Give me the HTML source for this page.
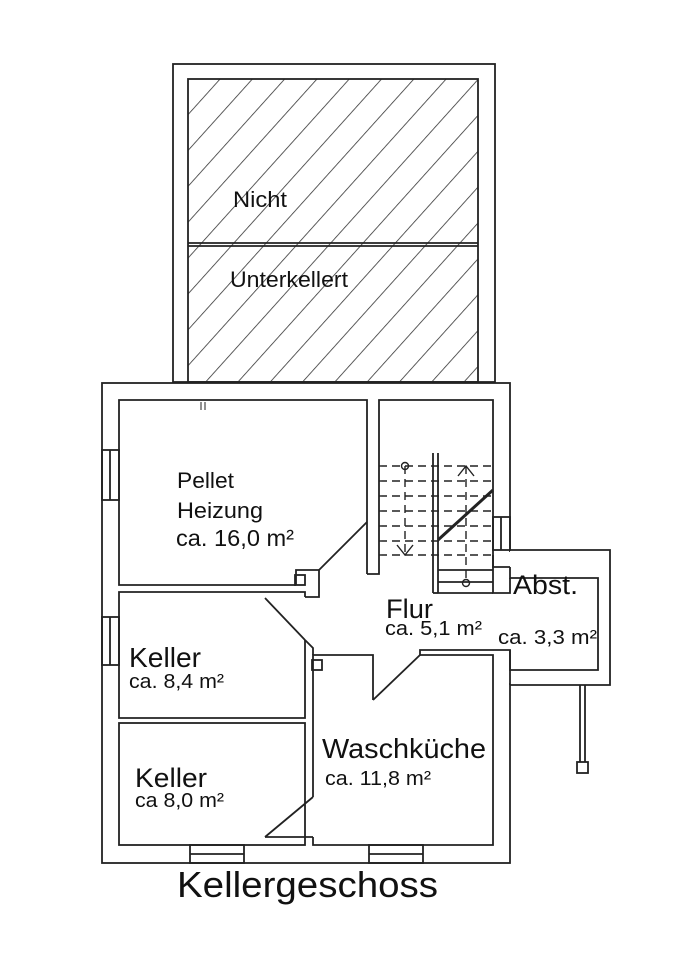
<!DOCTYPE html>
<html><head><style>body{margin:0;background:#fff}svg{display:block}text{font-family:"Liberation Sans",sans-serif;fill:#111}</style></head>
<body>
<svg width="681" height="960" viewBox="0 0 681 960" xmlns="http://www.w3.org/2000/svg">
<defs>
<pattern id="h" patternUnits="userSpaceOnUse" width="24" height="24" patternTransform="rotate(42)">
<line x1="0" y1="0" x2="0" y2="24" stroke="#333" stroke-width="1.6"/>
</pattern>
</defs>
<g fill="none" stroke="#222" stroke-width="1.8">
<rect x="173" y="64" width="322" height="318" fill="#fff"/>
<rect x="188" y="79" width="290" height="303" fill="url(#h)"/>
<line x1="188" y1="243" x2="478" y2="243"/>
<line x1="188" y1="246" x2="478" y2="246"/>
<rect x="102" y="383" width="408" height="480" fill="#fff"/>
<polyline points="510,550 610,550 610,685 510,685" fill="#fff"/>
<line x1="510" y1="552" x2="510" y2="683" stroke="#fff" stroke-width="3"/>
<polyline points="367,574 367,400 119,400 119,585 296,585"/>
<polyline points="367,574 379,574 379,400 493,400 493,567 510,567"/>
<polyline points="296,585 296,570 319,570 319,597 305,597"/>
<rect x="295" y="575" width="10" height="10"/>
<polyline points="305,640 305,718 119,718 119,592 305,592 305,597"/>
<rect x="119" y="723" width="186" height="122"/>
<polyline points="313,797 313,655 373,655 373,700"/>
<polyline points="420,655 493,655 493,845 313,845 313,837"/>
<polyline points="305,640 313,648 313,655"/>
<rect x="312" y="660" width="10" height="10"/>
<polyline points="420,655 420,650 510,650 510,685"/>
<polyline points="510,567 510,578 598,578 598,670 510,670 510,650"/>
<line x1="433" y1="453" x2="433" y2="593"/>
<line x1="438" y1="453" x2="438" y2="593"/>
<line x1="433" y1="593" x2="438" y2="593"/>
<line x1="438" y1="570" x2="493" y2="570"/>
<line x1="438" y1="582" x2="493" y2="582"/>
<line x1="438" y1="593" x2="493" y2="593"/>
<polyline points="493,555 493,593 510,593 510,578"/>
<g stroke-dasharray="8,5" stroke-width="1.4">
<line x1="379" y1="466" x2="493" y2="466"/>
<line x1="379" y1="481" x2="493" y2="481"/>
<line x1="379" y1="496" x2="493" y2="496"/>
<line x1="379" y1="511" x2="493" y2="511"/>
<line x1="379" y1="526" x2="493" y2="526"/>
<line x1="379" y1="541" x2="493" y2="541"/>
<line x1="379" y1="555" x2="493" y2="555"/>
<line x1="405" y1="466" x2="405" y2="555"/>
<line x1="466" y1="466" x2="466" y2="580"/>
</g>
<line x1="438" y1="540" x2="493" y2="490" stroke-width="3"/>
<polyline points="397,545 405,555 413,545" stroke-width="1.4"/>
<polyline points="458,476 466,466 474,476" stroke-width="1.4"/>
<circle cx="405" cy="466" r="3.5" stroke-width="1.4"/>
<circle cx="466" cy="583" r="3.5" stroke-width="1.4"/>
<line x1="367" y1="522" x2="319" y2="570"/>
<line x1="265" y1="598" x2="305" y2="640"/>
<line x1="420" y1="655" x2="373" y2="700"/>
<line x1="313" y1="797" x2="265" y2="837"/>
<line x1="265" y1="837" x2="313" y2="837"/>
<rect x="102" y="450" width="17" height="50"/>
<line x1="110" y1="450" x2="110" y2="500"/>
<rect x="102" y="617" width="17" height="48"/>
<line x1="110" y1="617" x2="110" y2="665"/>
<rect x="190" y="845" width="54" height="18"/>
<line x1="190" y1="854" x2="244" y2="854"/>
<rect x="369" y="845" width="54" height="18"/>
<line x1="369" y1="854" x2="423" y2="854"/>
<rect x="493" y="517" width="17" height="33"/>
<line x1="501" y1="517" x2="501" y2="550"/>
<line x1="580" y1="685" x2="580" y2="762"/>
<line x1="585" y1="685" x2="585" y2="762"/>
<rect x="577" y="762" width="11" height="11"/>
<line x1="201" y1="402" x2="201" y2="410" stroke-width="1"/>
<line x1="205" y1="402" x2="205" y2="410" stroke-width="1"/>
</g>
<text x="233" y="207" font-size="22" textLength="54" lengthAdjust="spacingAndGlyphs">Nicht</text>
<text x="230" y="287" font-size="22" textLength="118" lengthAdjust="spacingAndGlyphs">Unterkellert</text>
<text x="177" y="488" font-size="22" textLength="57" lengthAdjust="spacingAndGlyphs">Pellet</text>
<text x="177" y="518" font-size="22" textLength="86" lengthAdjust="spacingAndGlyphs">Heizung</text>
<text x="176" y="546" font-size="23" textLength="118" lengthAdjust="spacingAndGlyphs">ca. 16,0 m²</text>
<text x="129" y="667" font-size="28" textLength="72" lengthAdjust="spacingAndGlyphs">Keller</text>
<text x="129" y="688" font-size="20" textLength="95" lengthAdjust="spacingAndGlyphs">ca. 8,4 m²</text>
<text x="135" y="787" font-size="27" textLength="72" lengthAdjust="spacingAndGlyphs">Keller</text>
<text x="135" y="807" font-size="20" textLength="89" lengthAdjust="spacingAndGlyphs">ca 8,0 m²</text>
<text x="322" y="758" font-size="28" textLength="164" lengthAdjust="spacingAndGlyphs">Waschküche</text>
<text x="325" y="785" font-size="20" textLength="106" lengthAdjust="spacingAndGlyphs">ca. 11,8 m²</text>
<text x="386" y="618" font-size="27" textLength="47" lengthAdjust="spacingAndGlyphs">Flur</text>
<text x="385" y="635" font-size="20" textLength="97" lengthAdjust="spacingAndGlyphs">ca. 5,1 m²</text>
<text x="513" y="594" font-size="27" textLength="65" lengthAdjust="spacingAndGlyphs">Abst.</text>
<text x="498" y="644" font-size="20" textLength="99" lengthAdjust="spacingAndGlyphs">ca. 3,3 m²</text>
<text x="177" y="897" font-size="36" textLength="261" lengthAdjust="spacingAndGlyphs">Kellergeschoss</text>
</svg>
</body></html>
